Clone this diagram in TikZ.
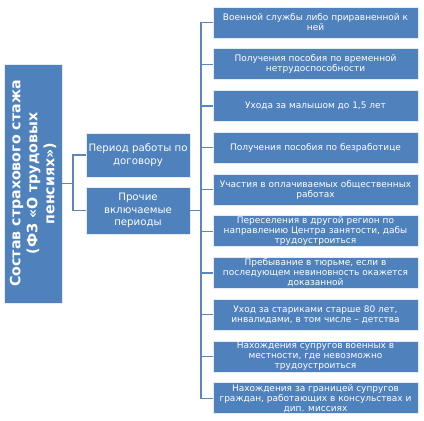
\documentclass[tikz,border=0pt]{standalone}
\usepackage{fontspec}
\setmainfont{DejaVu Sans}
\begin{document}
\begin{tikzpicture}[x=1pt,y=-1pt,
  box/.style={fill=boxblue,draw=white!85!boxblue,line width=0.6pt,text=white,align=center,inner sep=1pt},
  rbox/.style={box,minimum width=205pt,minimum height=31pt,font=\fontsize{9}{10}\selectfont},
  mbox/.style={box,minimum width=104pt,font=\fontsize{10.2}{12.5}\selectfont},
  conn/.style={draw=lineblue,line width=1.4pt}]
\definecolor{boxblue}{HTML}{4F81BD}
\definecolor{lineblue}{HTML}{5B87BF}
\useasboundingbox (0,0) rectangle (424,421);
\node[box,rotate=90,minimum width=239pt,minimum height=58pt,
  font=\bfseries\fontsize{14.2}{17}\selectfont] (root) at (33,183.5)
  {Состав страхового стажа\\ (ФЗ «О трудовых\\ пенсиях»)};
\node[mbox,minimum height=44pt] (m1) at (138,155) {Период работы по\\ договору};
\node[mbox,minimum height=47pt] (m2) at (138,210.5) {Прочие\\ включаемые\\ периоды};
\foreach \i/\t in {0/{Военной службы либо приравненной к\\ ней},
  1/{Получения пособия по временной\\ нетрудоспособности},
  2/{Ухода за малышом до 1,5 лет},
  3/{Получения пособия по безработице},
  4/{Участия в оплачиваемых общественных\\ работах},
  5/{Переселения в другой регион по\\ направлению Центра занятости, дабы\\ трудоустроиться},
  6/{Пребывание в тюрьме, если в\\ последующем невиновность окажется\\ доказанной},
  7/{Уход за стариками старше 80 лет,\\ инвалидами, в том числе – детства},
  8/{Нахождения супругов военных в\\ местности, где невозможно\\ трудоустроиться},
  9/{Нахождения за границей супругов\\ граждан, работающих в консульствах и\\ дип. миссиях}}
{\node[rbox] (r\i) at (315.5,{22.5+41.75*\i}) {\t};}
% left connectors
\coordinate (lj) at (73,183.5);
\draw[conn] (root.south) -- (lj);
\draw[conn] (m1.west) -| (lj) |- (m2.west);
% right connectors
\coordinate (rj) at (201,210.5);
\draw[conn] (m2.east) -- (rj);
\draw[conn] (r0.west) -| (rj) |- (r9.west);
\foreach \i in {1,...,8}{\draw[conn] (r\i.west) -- ++(-12,0);}
\end{tikzpicture}
\end{document}
